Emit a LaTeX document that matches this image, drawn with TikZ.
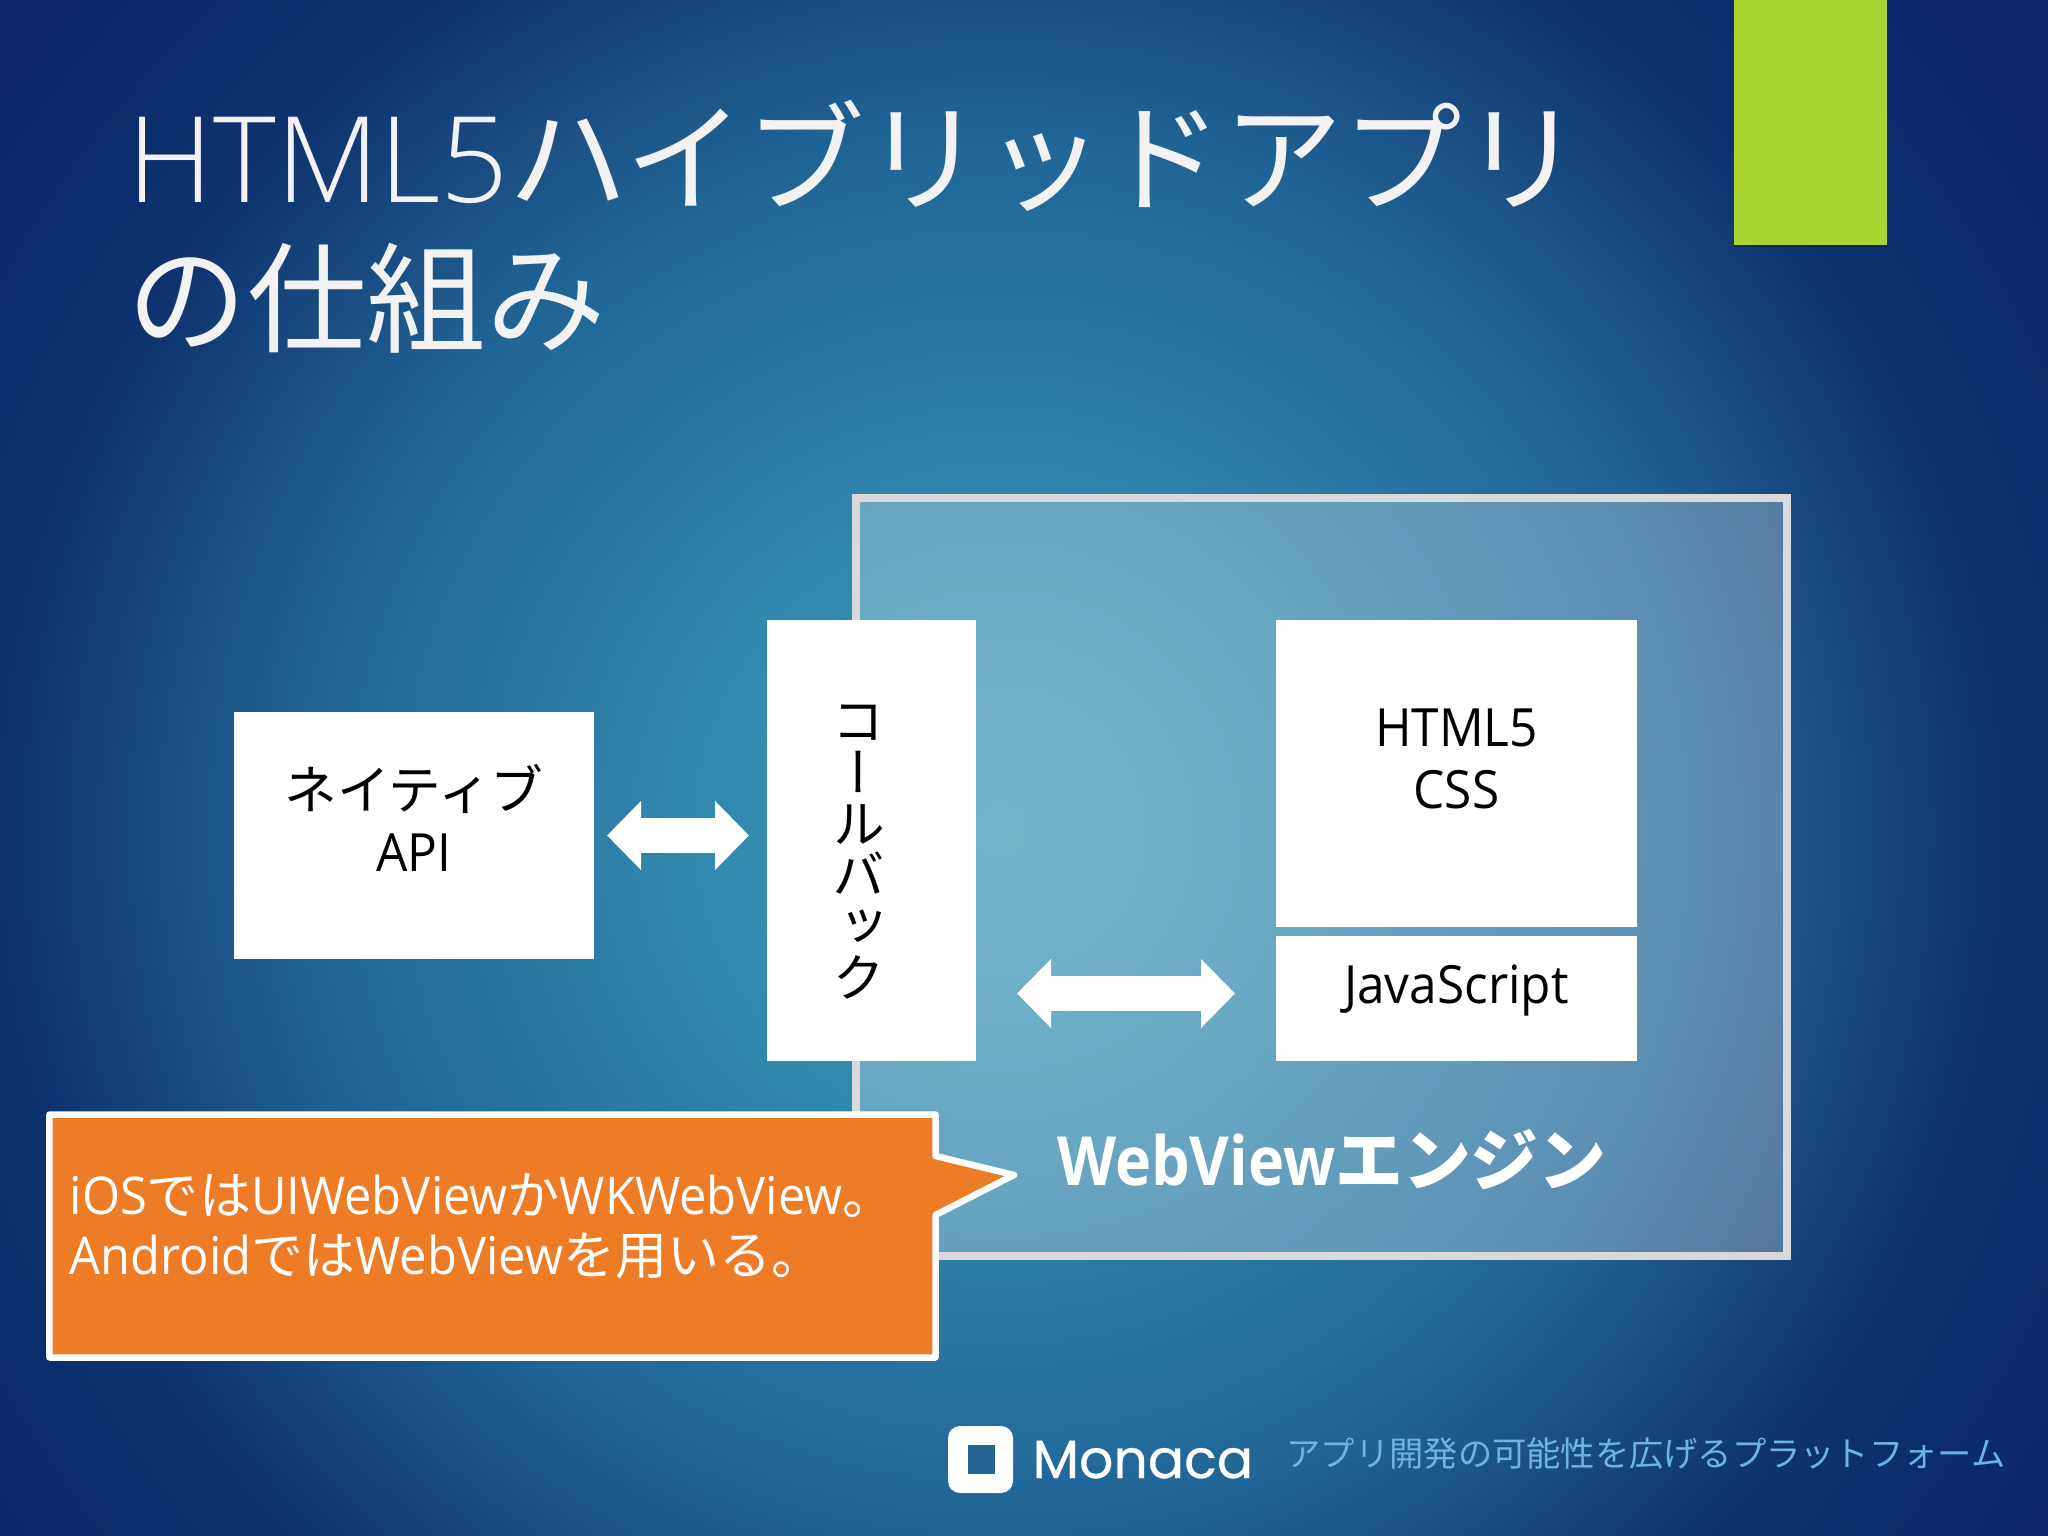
\documentclass[tikz,border=0pt]{standalone}
\usepackage{fontspec}
\usetikzlibrary{positioning, arrows.meta}
\setmainfont[FakeStretch=0.94]{Open Sans}
\newfontfamily\titlefont{Open Sans Light}
\newfontfamily\enginefont[FakeStretch=0.90]{Open Sans}
\newfontfamily\jpfont{Noto Sans CJK JP}
\newfontfamily\jpvert[RawFeature={+vert}]{Noto Sans CJK JP}
\newfontfamily\logofont[FakeBold=0.6]{Poppins}
\newcommand{\jp}[1]{{\jpfont #1}}

\definecolor{glowa}{HTML}{3F9CB8}
\definecolor{glowb}{HTML}{3188AD}
\definecolor{glowc}{HTML}{1F6496}
\definecolor{glowd}{HTML}{1B4E82}
\definecolor{glowe}{HTML}{0E3370}
\definecolor{glowf}{HTML}{0A2468}
\definecolor{calloutorange}{HTML}{EE7B25}
\definecolor{tabgreen}{HTML}{A8D532}
\definecolor{panelgray}{HTML}{D9D9D9}
\definecolor{taglineblue}{HTML}{6CB4E4}
\definecolor{logoinner}{HTML}{236491}
\definecolor{titlewhite}{HTML}{F2F2F2}
\pgfdeclareradialshading{slideglow}{\pgfpoint{0bp}{0bp}}{%
  color(0bp)=(glowa);
  color(6bp)=(glowb);
  color(13.5bp)=(glowc);
  color(16bp)=(glowd);
  color(19bp)=(glowe);
  color(25bp)=(glowf);
  color(50bp)=(glowf)}

\tikzset{
  whitebox/.style={draw=none, fill=white, inner sep=0pt, outer sep=0pt, align=center,
    font=\fontsize{15}{17.6}\selectfont},
  blockarrow/.style={draw=white, line width=0.345cm,
    {Triangle[length=0.34cm, width=0.67cm]}-{Triangle[length=0.34cm, width=0.67cm]}},
}

\begin{document}
\begin{tikzpicture}[x=1cm, y=-1cm]
  \useasboundingbox (0,0) rectangle (20.48,15.36);

  % Background
  \begin{scope}
    \clip (0,0) rectangle (20.48,15.36);
    \shade[shading=slideglow] (-3,-4.7) rectangle (23,21.3);
  \end{scope}
  \fill[black, opacity=0.25] (17.34,0) rectangle (18.87,2.47);
  \fill[tabgreen] (17.34,0) rectangle (18.87,2.45);

  % Define nodes
  \node[anchor=north west, inner sep=0pt, align=left, text=titlewhite,
    font=\fontsize{34}{40.1}\titlefont] (title) at (1.27,0.99)
    {HTML5\jp{ハイブリッドアプリ}\\\jp{の仕組み}};

  \node[draw=panelgray, line width=0.08cm, fill=white, fill opacity=0.27,
    inner sep=0pt, outer sep=0pt, minimum width=9.31cm, minimum height=7.58cm] (webview) at (13.215,8.77) {};
  \node[anchor=base, text=white, font=\fontsize{19.3}{23}\enginefont\bfseries] (enginelabel) at (13.32,11.85)
    {WebView\jp{エンジン}};

  \node[whitebox, minimum width=3.60cm, minimum height=2.47cm] (native) at (4.14,8.355)
    {\jp{ネイティブ}\\API\\[-0.27cm]};
  \node[whitebox, minimum width=2.09cm, minimum height=4.41cm, right=1.73cm of native.east, anchor=west,
    yshift=-0.05cm] (callback)
    {};
  \node[font=\fontsize{15}{14.6}\jpvert, align=center, inner sep=0pt] (callbacklabel) at (8.59,8.52)
    {コ\\ー\\ル\\バ\\ッ\\ク};
  \node[whitebox, minimum width=3.61cm, minimum height=3.07cm, right=3.00cm of callback.north east, anchor=north west] (html)
    {HTML5\\CSS\\[-0.33cm]};
  \node[whitebox, minimum width=3.61cm, minimum height=1.25cm, below=0.09cm of html] (js)
    {JavaScript\\[-0.34cm]};

  % Connect the nodes
  \draw[blockarrow, shorten <=0.13cm, shorten >=0.18cm] (native.east) -- (native.east -| callback.west);
  \draw[blockarrow, shorten <=0.41cm, shorten >=0.41cm] ([yshift=0.05cm]js.west -| callback.east) -- ([yshift=0.05cm]js.west);

  % Callout
  \draw[draw=white, line width=0.065cm, fill=calloutorange, line join=round]
    (0.495,11.145) -- (9.355,11.145) -- (9.355,11.56) -- (10.14,11.75) -- (9.355,12.15)
    -- (9.355,13.575) -- (0.495,13.575) -- cycle;
  \node[anchor=north west, inner sep=0pt, align=left, text=white,
    font=\fontsize{14.8}{17.1}\selectfont] (calloutnote) at (0.69,11.73)
    {iOS\jp{では}UIWebView\jp{か}WKWebView\jp{。}\\Android\jp{では}WebView\jp{を用いる。}};

  % Footer
  \fill[white, rounded corners=0.12cm] (9.48,14.26) rectangle (10.13,14.93);
  \fill[logoinner] (9.68,14.45) rectangle (9.95,14.74);
  \node[anchor=base west, inner sep=0pt, text=white, font=\fontsize{15.3}{18}\logofont] (logo) at (10.32,14.78) {Monaca};
  \node[anchor=base west, inner sep=0pt, text=taglineblue, font=\fontsize{9.75}{12}\jpfont] (tagline) at (12.86,14.66)
    {アプリ開発の可能性を広げるプラットフォーム};

\end{tikzpicture}
\end{document}
